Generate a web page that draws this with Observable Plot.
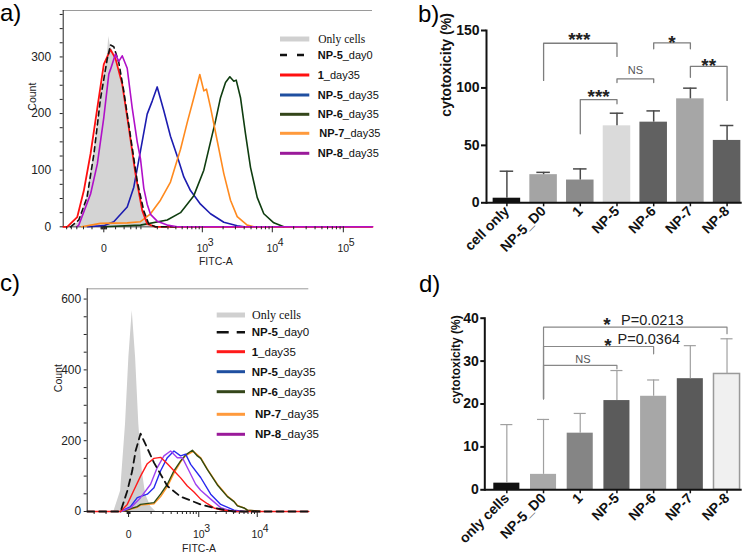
<!DOCTYPE html>
<html>
<head>
<meta charset="utf-8">
<script src="https://cdn.jsdelivr.net/npm/d3@7"></script>
<script src="https://cdn.jsdelivr.net/npm/@observablehq/plot@0.6"></script>
<style>
html,body{margin:0;padding:0;background:#fff;}
#fig{position:relative;width:750px;height:557px;overflow:hidden;background:#fff;}
.panel{position:absolute;}
#overlay{position:absolute;left:0;top:0;pointer-events:none;}
</style>
</head>
<body>
<div id="fig"></div>
<script>
const SANS = '"Liberation Sans", Arial, Helvetica, sans-serif';
const SERIF = '"Liberation Serif", "Times New Roman", serif';

// ================= Panel a: flow histograms, [FITC-A value, count] =================
const a_onlyCells = [[-117,0],[-83,0],[-53.6,8],[-31,52],[-16,134],[-5,228],[5,300],[7.6,336],[10.4,318],[20,302],[39,240],[59,158],[84,82],[114,29],[141,5],[186,0],[257000,0]];
const a_np5_day0  = [[-83,0],[-53.6,12],[-31,52],[-16,130],[-5,225],[5,296],[10.4,321],[16.4,318],[26.9,290],[39,240],[59,160],[84,80],[114,28],[141,5],[186,0],[400,0]];
const a_1_day35   = [[-117,0],[-97.5,0],[-58.7,17],[-39,64],[-23,129],[-10,210],[0,287],[10.4,313],[19.8,297],[35,252],[53.6,175],[77,93],[106,29],[132,5],[186,0],[257000,0]];
const a_np5_day35 = [[-30,0],[0,2],[16.4,9],[48.7,35],[70.5,70],[98,134],[132,199],[163,222],[199,247],[257,205],[329,160],[419,125],[530,88],[668,64],[940,40],[1316,23],[2047,8],[3181,2],[4000,0]];
const a_np6_day35 = [[0,0],[98,3],[292,12],[472,25],[749,55],[1051,100],[1316,150],[1555,187],[1835,228],[2165,255],[2495,265],[2845,257],[3079,259],[3545,228],[4176,164],[4915,105],[6113,52],[7584,23],[10495,7],[14530,0]];
const a_np7_day35 = [[-45,0],[-5,6],[48.7,7],[98,9],[152,23],[226,47],[329,79],[472,137],[596,184],[749,228],[918,269],[1051,240],[1150,243],[1316,211],[1645,152],[2047,94],[2553,47],[3181,18],[4412,3],[5474,0]];
const a_np8_day35 = [[-60,0],[-53.6,3],[-23,58],[-10,111],[0,193],[7.6,270],[10.4,278],[19.8,305],[26.9,292],[35,302],[48.7,280],[64.8,210],[83.8,150],[98,120],[114,68],[132,40],[152,22],[199,10],[292,3],[420,0],[257000,0]];
const a_majorTicks = [0, 1000, 10000, 100000];
const a_minorTicks = [-100,-80,-60,-40,-20,-4,-3,-2,-1,1,2,3,4,20,40,60,80,100]
  .concat([2,3,4,5,6,7,8,9].flatMap(m => [m*100, m*1000, m*10000]));

// ================= Panel c: flow histograms, [FITC-A value, count] =================
const c_onlyCells = [[-283,0],[-55,0],[-26,58],[-9,247],[0.8,435],[11,567],[22.5,435],[35,247],[50,115],[67,49],[97,14],[133,0],[72500,0]];
const c_np5_day0  = [[-283,0],[-26,0],[-3.7,58],[11,115],[22.5,171],[42.6,220],[120,138],[249,72],[463,42],[1081,20],[1850,10],[3140,3],[4065,0],[72500,0]];
const c_1_day35   = [[-283,0],[-26,0],[-3.7,20],[16.4,60],[42.6,100],[76.5,135],[120,150],[176,153],[249,135],[342,115],[463,95],[620,72],[820,55],[1081,35],[1420,22],[1850,10],[2412,5],[4065,0],[72500,0]];
const c_np5_day35 = [[-26,0],[5.8,14],[28.9,39],[76.5,49],[120,67],[176,115],[249,152],[342,171],[463,157],[576,162],[714,133],[1081,96],[1621,49],[2412,20],[4065,4],[5999,0]];
const c_np6_day35 = [[-26,0],[-3.7,5],[28.9,14],[42.6,20],[120,25],[176,49],[249,77],[342,115],[463,143],[576,160],[767,173],[944,157],[1081,150],[1420,118],[2117,75],[3140,42],[4065,28],[4643,16],[5999,10],[6846,4],[8840,2],[11450,0]];
const c_np7_day35 = [[-26,0],[-3.7,4],[28.9,12],[42.6,18],[120,22],[176,42],[249,70],[342,108],[463,140],[576,158],[799,170],[944,160],[1081,152],[1420,120],[2117,77],[3140,44],[4065,29],[4643,17],[5999,10],[6846,4],[8840,2],[11450,0]];
const c_np8_day35 = [[-26,0],[5.8,10],[42.6,39],[96.7,77],[146,124],[210,157],[292,171],[399,152],[500,152],[664,115],[880,77],[1081,60],[1621,35],[2412,11],[3573,2],[4643,0]];
const c_majorTicks = [0, 1000, 10000];
const c_minorTicks = [-200,-100,-4,-3,-2,-1,1,2,3,4,100]
  .concat([2,3,4,5,6,7,8,9].flatMap(m => [m*100, m*1000]));

// ================= Panel b: cytotoxicity (%) =================
const b_categories = ["cell only","NP-5_D0","1","NP-5","NP-6","NP-7","NP-8"];
const b_means      = [4.0, 24.5, 19.8, 67.0, 70.2, 90.5, 54.3];
const b_errorTops  = [27.5, 26.5, 29.5, 78.0, 80.0, 99.8, 67.3];
const b_brackets = [
  {from:"NP-5_D0", to:"NP-5", top:138.9, leftEnd:106.5, rightEnd:127.4},
  {from:"1",       to:"NP-5", top:89.9,  leftEnd:60.1,  rightEnd:86.2},
  {from:"NP-5",    to:"NP-6", top:107.9, leftEnd:104.7, rightEnd:104.7},
  {from:"NP-6",    to:"NP-7", top:139.3, leftEnd:134.1, rightEnd:134.1},
  {from:"NP-7",    to:"NP-8", top:118.7, leftEnd:109.3, rightEnd:89.1}
];
const b_bracketLabels = [
  {x:"1",    y:147.4, text:"***"},
  {x:"1",    y:97.7,  text:"***", half:true},
  {x:"NP-5", y:115.2, text:"NS",  half:true},
  {x:"NP-6", y:144.8, text:"*",   half:true},
  {x:"NP-7", y:124.7, text:"**",  half:true}
];

// ================= Panel d: cytotoxicity (%) =================
const d_categories = ["only cells","NP-5_D0","1","NP-5","NP-6","NP-7","NP-8"];
const d_means      = [1.55, 3.6, 13.2, 20.8, 21.8, 25.9, 27.0];
const d_errorTops  = [15.2, 16.4, 17.8, 27.8, 25.6, 33.6, 35.2];
const d_brackets = [
  {from:"NP-5_D0", to:"NP-8", top:37.9, leftEnd:21.2, rightEnd:36.4},
  {from:"NP-5_D0", to:"NP-6", top:33.4, leftEnd:21.2, rightEnd:31.7},
  {from:"NP-5_D0", to:"NP-5", top:29.0, leftEnd:21.2, rightEnd:28.2}
];
const d_pLabels = ["P=0.0213", "P=0.0364"];

// ================= Legend =================
const legendLabels = ["Only cells","NP-5_day0","1_day35","NP-5_day35","NP-6_day35","NP-7_day35","NP-8_day35"];

// ---------------- styles (kept apart from the data) ----------------
const A_COLORS = {d0:"#111111", r:"#ff1010", b:"#1c1cb0", g:"#0f3d10", o:"#ff8a1e", m:"#b010c8"};
const C_COLORS = {d0:"#111111", r:"#ff1a1a", b:"#2828ee", g:"#2f4a10", o:"#ff9326", m:"#a040f0"};
const b_fills = ["#111111","#a4a4a4","#8a8a8a","#dadada","#616161","#a6a6a6","#606060"];
const d_fills = ["#111111","#a9a9a9","#858585","#5b5b5b","#a7a7a7","#5a5a5a","#f0f0f0"];
const d_strokes = ["none","none","none","none","none","none","#9a9a9a"];

const pts = arr => arr.map(([x, y]) => ({x, y}));
const logLabel = d => d === 0 ? "0" : "10^" + Math.round(Math.log10(d));
function superscripts(svg) {
  d3.select(svg).selectAll("text").each(function () {
    const m = /^10\^(\d+)$/.exec(this.textContent);
    if (!m) return;
    const el = d3.select(this);
    el.text("10");
    el.append("tspan").attr("x", 5.5).attr("dy", "-0.6em").attr("text-anchor", "start").text(m[1]);
  });
}
function bracketPts(brs) {
  return brs.flatMap((b, i) => [
    {x:b.from, y:b.leftEnd, z:i}, {x:b.from, y:b.top, z:i},
    {x:b.to, y:b.top, z:i}, {x:b.to, y:b.rightEnd, z:i}
  ]);
}

const fig = document.getElementById("fig");
function place(node, left, top, w, h) {
  const div = document.createElement("div");
  div.className = "panel";
  div.style.left = left + "px"; div.style.top = top + "px";
  div.style.width = w + "px"; div.style.height = h + "px";
  div.appendChild(node);
  fig.appendChild(div);
}

// ---------------- Panel a ----------------
const aPlot = Plot.plot({
  width: 380, height: 275,
  marginLeft: 62.7, marginRight: 8, marginTop: 10, marginBottom: 48.7,
  style: {fontFamily: SANS, fontSize: "11px", color: "#222", background: "transparent"},
  x: {type: "symlog", constant: 43, domain: [-117, 257000], label: null},
  y: {domain: [0, 382], label: null},
  marks: [
    Plot.ruleY([0], {stroke: "#222"}),
    Plot.areaY(pts(a_onlyCells), {x: "x", y: "y", fill: "#d4d4d4"}),
    Plot.line(pts(a_np5_day35), {x: "x", y: "y", stroke: A_COLORS.b, strokeWidth: 1.6}),
    Plot.line(pts(a_np6_day35), {x: "x", y: "y", stroke: A_COLORS.g, strokeWidth: 1.6}),
    Plot.line(pts(a_np7_day35), {x: "x", y: "y", stroke: A_COLORS.o, strokeWidth: 1.6}),
    Plot.line(pts(a_1_day35), {x: "x", y: "y", stroke: A_COLORS.r, strokeWidth: 1.8}),
    Plot.line(pts(a_np5_day0), {x: "x", y: "y", stroke: A_COLORS.d0, strokeWidth: 1.6, strokeDasharray: "5,4"}),
    Plot.line(pts(a_np8_day35), {x: "x", y: "y", stroke: A_COLORS.m, strokeWidth: 1.6}),
    Plot.ruleY([382], {stroke: "#9a9a9a"}),
    Plot.ruleX([-117], {y1: 0, y2: 382, stroke: "#222"}),
    Plot.axisY({ticks: d3.range(0, 376, 25), tickSize: 3, tickPadding: 9, tickFormat: d => d % 100 === 0 ? String(d) : "", fontSize: 12}),
    Plot.axisX({ticks: a_majorTicks, tickSize: 6, tickPadding: 12, tickFormat: logLabel, fontSize: 10.5}),
    Plot.axisX({ticks: a_minorTicks, tickSize: 3, tickFormat: () => ""}),
    Plot.text(["Count"], {frameAnchor: "left", dx: -31, dy: -8, rotate: -90, text: d => d, fontSize: 10.5}),
    Plot.text(["FITC-A"], {frameAnchor: "bottom", dx: -2, dy: 38, text: d => d, fontSize: 10.5})
  ]
});
superscripts(aPlot);
place(aPlot, 0, 0, 380, 275);

// ---------------- Panel c ----------------
const cPlot = Plot.plot({
  width: 380, height: 282,
  marginLeft: 86.7, marginRight: 71.7, marginTop: 13.3, marginBottom: 46,
  style: {fontFamily: SANS, fontSize: "11px", color: "#222", background: "transparent"},
  x: {type: "symlog", constant: 73, domain: [-283, 72500], label: null},
  y: {domain: [0, 629], label: null},
  marks: [
    Plot.ruleY([0], {stroke: "#222"}),
    Plot.areaY(pts(c_onlyCells), {x: "x", y: "y", fill: "#cfcfcf"}),
    Plot.line(pts(c_np7_day35), {x: "x", y: "y", stroke: C_COLORS.o, strokeWidth: 1.4}),
    Plot.line(pts(c_np6_day35), {x: "x", y: "y", stroke: C_COLORS.g, strokeWidth: 1.4}),
    Plot.line(pts(c_np5_day35), {x: "x", y: "y", stroke: C_COLORS.b, strokeWidth: 1.4}),
    Plot.line(pts(c_np8_day35), {x: "x", y: "y", stroke: C_COLORS.m, strokeWidth: 1.4}),
    Plot.line(pts(c_1_day35), {x: "x", y: "y", stroke: C_COLORS.r, strokeWidth: 1.4}),
    Plot.line(pts(c_np5_day0), {x: "x", y: "y", stroke: C_COLORS.d0, strokeWidth: 1.8, strokeDasharray: "7,5"}),
    Plot.ruleY([629], {stroke: "#9a9a9a"}),
    Plot.ruleX([-283], {y1: 0, y2: 629, stroke: "#222"}),
    Plot.axisY({ticks: d3.range(0, 626, 50), tickSize: 3, tickPadding: 3, tickFormat: d => d % 200 === 0 ? String(d) : "", fontSize: 12}),
    Plot.axisX({ticks: c_majorTicks, tickSize: 6, tickPadding: 13, tickFormat: logLabel, fontSize: 10.5}),
    Plot.axisX({ticks: c_minorTicks, tickSize: 3, tickFormat: () => ""}),
    Plot.text(["Count"], {frameAnchor: "left", dx: -29, dy: -8, rotate: -90, text: d => d, fontSize: 10.5}),
    Plot.text(["FITC-A"], {frameAnchor: "bottom", dx: 1, dy: 40, text: d => d, fontSize: 10.5})
  ]
});
superscripts(cPlot);
place(cPlot, 0, 275, 380, 282);

// ---------------- Panel b ----------------
const bData = b_categories.map((c, i) => ({cat: c, mean: b_means[i], top: b_errorTops[i], fill: b_fills[i]}));
const HALF = 18.35;
const bPlot = Plot.plot({
  width: 370, height: 275,
  marginLeft: 106, marginRight: 8.3, marginTop: 30, marginBottom: 72.7,
  style: {fontFamily: SANS, fontSize: "14px", fontWeight: "bold", color: "#111", background: "transparent"},
  x: {type: "band", domain: b_categories, paddingInner: 0.25, paddingOuter: 0.109, align: 0.83, round: false, label: null},
  y: {domain: [0, 150], label: null},
  color: {type: "identity"},
  marks: [
    Plot.barY(bData, {x: "cat", y: "mean", fill: "fill"}),
    Plot.ruleX(bData, {x: "cat", y1: "mean", y2: "top", stroke: "#4a4a4a", strokeWidth: 1.5}),
    Plot.tickY(bData, {x: "cat", y: "top", insetLeft: 7, insetRight: 7, stroke: "#4a4a4a", strokeWidth: 1.5}),
    Plot.line(bracketPts(b_brackets), {x: "x", y: "y", z: "z", stroke: "#7d7d7d", strokeWidth: 1.3}),
    ...b_bracketLabels.map(l => Plot.text([l], {
      x: "x", y: "y", text: "text",
      dx: l.half ? HALF : -1,
      dy: l.text === "NS" ? 0 : 6,
      fontSize: l.text === "NS" ? 11 : 19,
      fontWeight: l.text === "NS" ? "normal" : "bold",
      fill: l.text === "NS" ? "#555" : "#222"
    })),
    Plot.ruleY([0], {stroke: "#111", strokeWidth: 2}),
    Plot.frame({anchor: "left", stroke: "#111", strokeWidth: 2}),
    Plot.axisY({ticks: [0, 50, 100, 150], tickSize: 5, tickPadding: 2, tickFormat: d => String(d), strokeWidth: 2}),
    Plot.axisX({tickRotate: -45, tickSize: 4, tickPadding: 2, strokeWidth: 1.5}),
    Plot.text(["cytotoxicity (%)"], {frameAnchor: "left", dx: -40, rotate: -90, text: d => d, fontSize: 14, fontWeight: "bold"})
  ]
});
place(bPlot, 380, 0, 370, 275);

// ---------------- Panel d ----------------
const dData = d_categories.map((c, i) => ({cat: c, mean: d_means[i], top: d_errorTops[i], fill: d_fills[i], stroke: d_strokes[i]}));
const dPlot = Plot.plot({
  width: 370, height: 282,
  marginLeft: 104.3, marginRight: 8.3, marginTop: 42.7, marginBottom: 67.7,
  style: {fontFamily: SANS, fontSize: "14px", fontWeight: "bold", color: "#111", background: "transparent"},
  x: {type: "band", domain: d_categories, paddingInner: 0.29, paddingOuter: 0.152, align: 0.807, round: false, label: null},
  y: {domain: [0, 40], label: null},
  color: {type: "identity"},
  marks: [
    Plot.barY(dData, {x: "cat", y: "mean", fill: "fill", stroke: "stroke", strokeWidth: 1.5}),
    Plot.ruleX(dData, {x: "cat", y1: "mean", y2: "top", stroke: "#a0a0a0", strokeWidth: 1.2}),
    Plot.tickY(dData, {x: "cat", y: "top", insetLeft: 7, insetRight: 7, stroke: "#a0a0a0", strokeWidth: 1.2}),
    Plot.line(bracketPts(d_brackets), {x: "x", y: "y", z: "z", stroke: "#888", strokeWidth: 1.2}),
    Plot.text([{x: "NP-5", y: 39.5}], {x: "x", y: "y", text: () => "*", dx: -10, dy: 5, fontSize: 19, fontWeight: "bold", fill: "#222"}),
    Plot.text([{x: "NP-6", y: 39.6}], {x: "x", y: "y", text: () => d_pLabels[0], dx: -32.6, textAnchor: "start", fontSize: 14.5, fontWeight: "normal", fill: "#222"}),
    Plot.text([{x: "NP-5", y: 34.6}], {x: "x", y: "y", text: () => "*", dx: -9, dy: 5, fontSize: 19, fontWeight: "bold", fill: "#222"}),
    Plot.text([{x: "NP-5", y: 35.0}], {x: "x", y: "y", text: () => d_pLabels[1], dx: 0.6, textAnchor: "start", fontSize: 14.5, fontWeight: "normal", fill: "#222"}),
    Plot.text([{x: "1", y: 30.3}], {x: "x", y: "y", text: () => "NS", dx: 2.7, fontSize: 11, fontWeight: "normal", fill: "#555"}),
    Plot.ruleY([0], {stroke: "#111", strokeWidth: 2}),
    Plot.frame({anchor: "left", stroke: "#111", strokeWidth: 2}),
    Plot.axisY({ticks: [0, 10, 20, 30, 40], tickSize: 4, tickPadding: 2, tickFormat: d => String(d), strokeWidth: 2}),
    Plot.axisX({tickRotate: -45, tickSize: 4, tickPadding: 2, strokeWidth: 1.5}),
    Plot.text(["cytotoxicity (%)"], {frameAnchor: "left", dx: -28.5, rotate: -90, text: d => d, fontSize: 12, fontWeight: "bold"})
  ]
});
place(dPlot, 380, 275, 370, 282);

// ---------------- Overlay: legends and panel letters ----------------
const ov = d3.select(fig).append("svg").attr("id", "overlay").attr("width", 750).attr("height", 557);
function legend(cfg, colors) {
  const swatches = [
    {stroke: "#d0d0d0", width: 5, dash: null},
    {stroke: "#111", width: 2.5, dash: cfg.dash},
    {stroke: colors.r, width: 3, dash: null},
    {stroke: "#1f4fa0", width: 3, dash: null},
    {stroke: "#34461a", width: 3, dash: null},
    {stroke: "#ff9a3c", width: 3, dash: null},
    {stroke: "#9a1a9a", width: 3, dash: null}
  ];
  legendLabels.forEach((lab, i) => {
    const y = cfg.ys[i], s = swatches[i];
    ov.append("line").attr("x1", cfg.x1).attr("x2", cfg.x2).attr("y1", y).attr("y2", y)
      .attr("stroke", s.stroke).attr("stroke-width", s.width).attr("stroke-dasharray", s.dash);
    const t = ov.append("text").attr("x", cfg.tx[i]).attr("y", y).attr("dy", "0.35em")
      .attr("font-size", cfg.fs).attr("fill", "#111");
    if (i === 0) {
      t.attr("font-family", SERIF).attr("font-size", cfg.fs + 0.5).text(lab);
    } else {
      const k = lab.indexOf("_");
      t.attr("font-family", SANS);
      t.append("tspan").attr("font-weight", "bold").text(lab.slice(0, k));
      t.append("tspan").text(lab.slice(k));
    }
  });
}
legend({x1: 280, x2: 309.3, tx: [318.3, 317.7, 317.7, 317.7, 317.7, 319.3, 317.7],
        ys: [39, 55, 75, 95, 114.3, 133.3, 153.3], fs: 11, dash: "7,10"}, A_COLORS);
legend({x1: 216.7, x2: 245, tx: [252, 251.7, 251.7, 251.7, 251.7, 255, 255],
        ys: [315, 332.3, 351.7, 371.7, 391.7, 414.3, 434.3], fs: 11.5, dash: "12,8"}, C_COLORS);

const letters = [["a)", 0, 21], ["b)", 418, 22], ["c)", 0, 291], ["d)", 419, 292]];
letters.forEach(([t, x, y]) => ov.append("text").attr("x", x).attr("y", y)
  .attr("font-family", SANS).attr("font-size", 24).attr("fill", "#000").text(t));
</script>
</body>
</html>
